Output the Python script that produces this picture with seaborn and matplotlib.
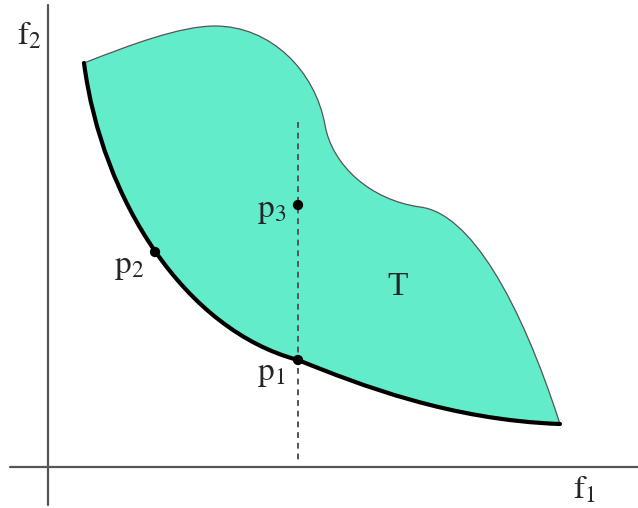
import matplotlib.pyplot as plt
import matplotlib.patches as mpatches
from matplotlib.path import Path
import seaborn as sns
import pandas as pd

# Objective space region T (pixel-like coordinates, y grows downward)
# upper boundary as cubic bezier control points
upper_x = [84, 130, 180, 215, 270, 315, 325, 332, 370, 420, 470, 520, 560]
upper_y = [63, 45, 26, 26, 26, 70, 125, 165, 200, 207, 213, 300, 424]
# pareto front (lower-left boundary), from right end back to the top-left corner
front_x = [560, 450, 360, 298, 185, 102, 84]
front_y = [424, 420, 385, 360, 330, 200, 63]

# labelled points
pts = pd.DataFrame({"name": ["p1", "p2", "p3"],
                    "f1": [298, 155, 298],
                    "f2": [360, 252, 205]})
dash_x = [298, 298]
dash_y = [122, 464]

sns.set_style("white")
plt.rcParams["mathtext.fontset"] = "stix"
plt.rcParams["font.family"] = ["Liberation Serif", "DejaVu Serif"]

fig = plt.figure(figsize=(6.38, 5.08), dpi=100)
ax = fig.add_axes([0, 0, 1, 1])
ax.set_xlim(0, 638)
ax.set_ylim(508, 0)
ax.axis("off")

# filled region
verts = list(zip(upper_x, upper_y)) + list(zip(front_x[1:], front_y[1:]))
codes = [Path.MOVETO] + [Path.CURVE4] * (len(upper_x) - 1) + [Path.CURVE4] * (len(front_x) - 1)
ax.add_patch(mpatches.PathPatch(Path(verts, codes), facecolor="#62ecc9", edgecolor="none", zorder=1))

# thin outline on top side
up_codes = [Path.MOVETO] + [Path.CURVE4] * (len(upper_x) - 1)
ax.add_patch(mpatches.PathPatch(Path(list(zip(upper_x, upper_y)), up_codes), facecolor="none",
                                edgecolor="#555555", lw=0.9, zorder=2))
# thick front
fr_codes = [Path.MOVETO] + [Path.CURVE4] * (len(front_x) - 1)
ax.add_patch(mpatches.PathPatch(Path(list(zip(front_x, front_y)), fr_codes), facecolor="none",
                                edgecolor="black", lw=3, capstyle="round", zorder=3))

# axes
ax.plot([48, 48], [5, 505], color="#555555", lw=1.6, zorder=2)
ax.plot([10, 638], [467, 467], color="#555555", lw=1.6, zorder=2)

# dashed line through p1 and p3
sns.lineplot(x=dash_x, y=dash_y, ax=ax, color="#555555", lw=1.4, linestyle=(0, (3, 2.5)),
             estimator=None, sort=False, zorder=2)

sns.scatterplot(data=pts, x="f1", y="f2", ax=ax, color="black", s=55, edgecolor="none", zorder=5)

fs = 24
ax.text(398, 287, "T", fontsize=fs, ha="center", va="center")
ax.text(271, 374, r"$\mathrm{p}_1$", fontsize=fs, ha="center", va="center")
ax.text(129, 267, r"$\mathrm{p}_2$", fontsize=fs, ha="center", va="center")
ax.text(272, 211, r"$\mathrm{p}_3$", fontsize=fs, ha="center", va="center")
ax.text(29, 36, r"$\mathrm{f}_2$", fontsize=fs, ha="center", va="center")
ax.text(584, 490, r"$\mathrm{f}_1$", fontsize=fs, ha="center", va="center")

fig.savefig("out.png", dpi=100)
